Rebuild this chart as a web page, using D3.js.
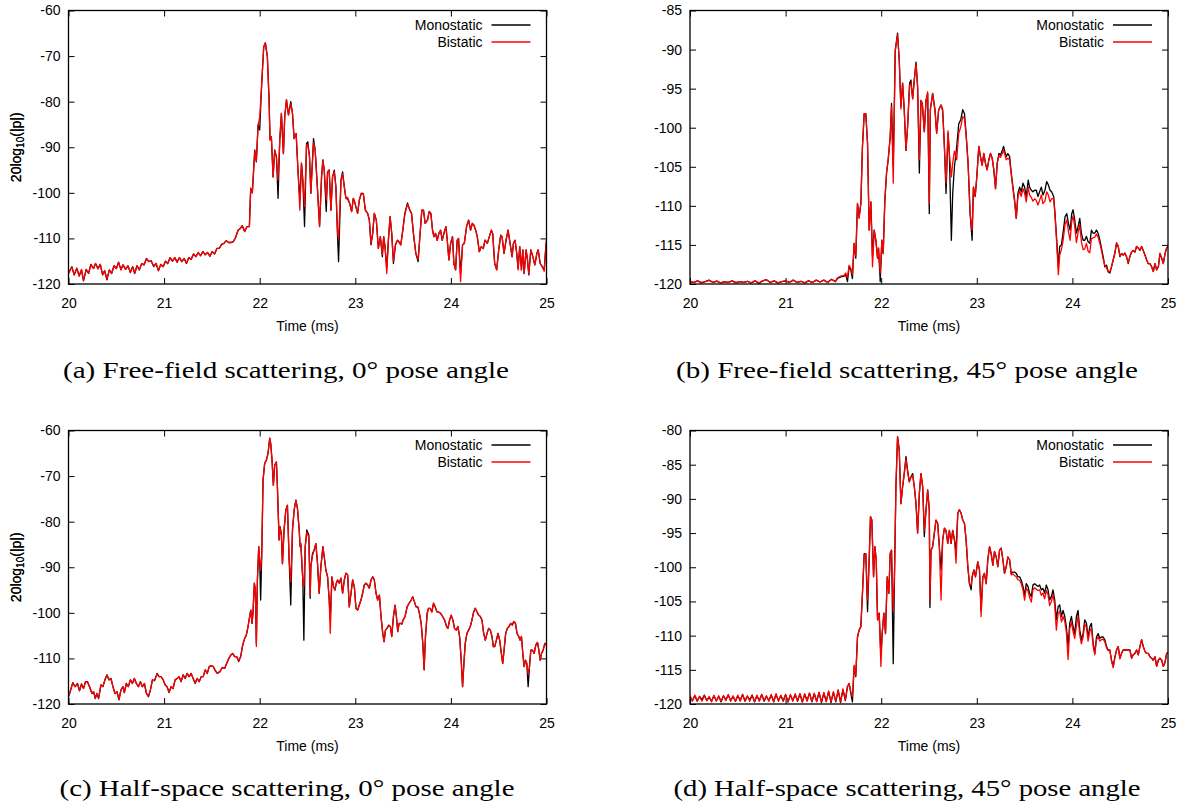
<!DOCTYPE html>
<html><head><meta charset="utf-8">
<script src="https://cdn.jsdelivr.net/npm/d3@7"></script>
<style>body{margin:0;background:#fff}svg{display:block}</style>
</head><body><svg id="chart" width="1181" height="805"></svg>
<script>
// ---------------- DATA ----------------
const timeTicks = [20, 21, 22, 23, 24, 25];
const yTicksA = [-120, -110, -100, -90, -80, -70, -60];
const yTicksB = [-120, -115, -110, -105, -100, -95, -90, -85];
const yTicksC = [-120, -110, -100, -90, -80, -70, -60];
const yTicksD = [-120, -115, -110, -105, -100, -95, -90, -85, -80];
const seriesNames = ["Monostatic", "Bistatic"];
const captions = [
  "(a) Free-field scattering, 0\u00b0 pose angle",
  "(b) Free-field scattering, 45\u00b0 pose angle",
  "(c) Half-space scattering, 0\u00b0 pose angle",
  "(d) Half-space scattering, 45\u00b0 pose angle"
];
const xLabel = "Time (ms)";

// rows: [time (ms), monostatic dB, bistatic dB]
const rowsA = [
[20.000,-117.7,-117.5],[20.035,-116.2,-116.3],[20.059,-118.0,-118.0],[20.087,-116.6,-116.5],[20.112,-118.2,-118.3],
[20.136,-116.9,-116.8],[20.157,-119.3,-119.2],[20.185,-116.8,-116.8],[20.210,-117.7,-117.6],[20.234,-115.7,-115.8],
[20.262,-116.6,-116.6],[20.283,-115.5,-115.5],[20.308,-116.6,-116.7],[20.332,-115.7,-115.7],[20.357,-118.0,-117.9],
[20.378,-117.1,-117.1],[20.402,-119.1,-118.9],[20.427,-116.9,-116.9],[20.451,-117.7,-117.7],[20.476,-116.0,-116.0],
[20.500,-116.6,-116.6],[20.524,-115.2,-115.3],[20.549,-116.9,-116.9],[20.570,-115.8,-115.8],[20.598,-116.8,-116.8],
[20.622,-116.0,-116.0],[20.647,-117.5,-117.4],[20.671,-116.2,-116.2],[20.692,-117.7,-117.6],[20.717,-116.0,-116.0],
[20.741,-116.9,-116.9],[20.766,-115.5,-115.5],[20.790,-115.8,-115.8],[20.815,-114.4,-114.5],[20.839,-115.1,-115.1],
[20.864,-114.9,-114.9],[20.892,-116.2,-116.1],[20.916,-115.5,-115.5],[20.941,-117.1,-117.0],[20.965,-115.7,-115.7],
[20.990,-116.2,-116.2],[21.014,-115.0,-115.0],[21.038,-115.5,-115.5],[21.063,-114.2,-114.2],[21.087,-115.0,-115.0],
[21.112,-114.2,-114.2],[21.136,-115.2,-115.2],[21.161,-114.2,-114.2],[21.185,-115.1,-115.1],[21.210,-114.4,-114.4],
[21.234,-115.5,-115.4],[21.259,-114.2,-114.2],[21.283,-114.6,-114.6],[21.308,-113.4,-113.4],[21.332,-114.0,-114.0],
[21.357,-113.1,-113.1],[21.381,-113.8,-113.8],[21.406,-112.9,-112.9],[21.430,-113.6,-113.6],[21.455,-113.1,-113.1],
[21.479,-113.9,-113.9],[21.503,-112.9,-112.9],[21.528,-113.4,-113.4],[21.552,-112.2,-112.2],[21.577,-112.2,-112.2],
[21.601,-111.3,-111.3],[21.626,-111.1,-111.1],[21.650,-110.5,-110.5],[21.675,-110.9,-110.9],[21.699,-110.9,-110.9],
[21.724,-110.7,-110.7],[21.748,-109.8,-109.8],[21.773,-108.2,-108.2],[21.797,-107.8,-107.8],[21.818,-107.2,-107.2],
[21.843,-108.5,-108.5],[21.867,-107.4,-107.4],[21.892,-107.4,-107.4],[21.906,-99.0,-99.0],[21.923,-100.0,-100.0],
[21.948,-90.6,-90.8],[21.965,-93.2,-93.0],[21.983,-85.1,-85.1],[22.000,-86.2,-83.5],[22.021,-76.0,-76.0],
[22.042,-68.0,-68.0],[22.059,-67.1,-67.1],[22.080,-70.1,-70.1],[22.098,-79.6,-79.6],[22.108,-88.4,-88.4],
[22.122,-87.7,-87.7],[22.140,-96.5,-96.5],[22.157,-90.6,-90.8],[22.175,-92.1,-92.1],[22.192,-101.2,-97.2],
[22.210,-88.4,-88.4],[22.227,-82.6,-82.6],[22.248,-91.4,-91.4],[22.262,-83.3,-83.3],[22.280,-79.6,-79.6],
[22.301,-82.9,-82.9],[22.325,-80.0,-80.5],[22.343,-82.6,-82.6],[22.360,-88.1,-88.1],[22.381,-87.0,-87.0],
[22.402,-95.7,-95.7],[22.420,-101.5,-103.8],[22.437,-93.5,-93.5],[22.451,-97.2,-97.2],[22.469,-107.4,-103.0],
[22.490,-89.2,-89.5],[22.503,-88.8,-89.5],[22.521,-92.1,-92.1],[22.535,-100.1,-100.1],[22.563,-88.1,-89.0],
[22.580,-90.6,-90.6],[22.605,-99.4,-99.4],[22.626,-107.4,-107.4],[22.647,-96.5,-96.5],[22.661,-92.8,-92.8],
[22.675,-95.0,-95.0],[22.696,-104.1,-101.6],[22.710,-95.4,-95.4],[22.727,-95.0,-95.0],[22.745,-103.8,-103.8],
[22.762,-96.5,-96.5],[22.780,-95.0,-95.4],[22.797,-98.7,-98.7],[22.815,-110.0,-109.0],[22.825,-115.1,-110.0],
[22.850,-97.2,-97.6],[22.867,-95.4,-95.8],[22.885,-98.7,-98.7],[22.902,-101.2,-101.2],[22.920,-101.4,-101.0],
[22.941,-102.3,-102.3],[22.962,-104.1,-104.1],[22.979,-101.2,-101.2],[22.997,-102.3,-102.3],[23.024,-104.5,-104.5],
[23.042,-101.6,-101.6],[23.063,-100.1,-100.1],[23.084,-100.1,-100.3],[23.105,-103.8,-103.8],[23.129,-104.5,-104.5],
[23.147,-106.0,-106.0],[23.164,-111.4,-111.0],[23.182,-108.9,-108.9],[23.199,-104.5,-104.5],[23.220,-106.0,-106.0],
[23.241,-112.2,-112.2],[23.262,-109.6,-109.6],[23.283,-114.0,-113.5],[23.297,-109.6,-109.6],[23.311,-111.8,-111.8],
[23.329,-116.6,-117.7],[23.346,-110.4,-110.4],[23.364,-105.2,-105.2],[23.381,-108.9,-108.9],[23.399,-115.5,-115.0],
[23.420,-111.4,-111.4],[23.441,-110.4,-110.4],[23.455,-110.7,-110.7],[23.476,-111.4,-111.4],[23.497,-108.2,-108.2],
[23.518,-104.5,-104.8],[23.546,-102.2,-102.5],[23.570,-103.8,-103.8],[23.588,-104.5,-104.5],[23.608,-108.9,-108.9],
[23.633,-113.3,-113.3],[23.657,-115.1,-114.6],[23.678,-108.9,-108.9],[23.696,-103.8,-103.8],[23.713,-103.8,-103.8],
[23.731,-106.7,-106.7],[23.755,-106.0,-106.0],[23.773,-104.1,-104.1],[23.790,-104.5,-104.5],[23.808,-108.2,-108.2],
[23.822,-109.6,-109.6],[23.839,-108.9,-108.9],[23.857,-110.4,-110.4],[23.874,-108.9,-108.9],[23.892,-108.2,-108.2],
[23.909,-110.4,-110.4],[23.927,-108.9,-108.9],[23.948,-107.4,-107.4],[23.962,-110.4,-110.4],[23.979,-114.7,-114.7],
[23.997,-111.1,-111.1],[24.017,-109.6,-109.6],[24.031,-115.5,-115.5],[24.049,-116.9,-116.9],[24.066,-110.4,-110.4],
[24.080,-110.0,-110.0],[24.101,-117.7,-119.5],[24.122,-111.4,-111.4],[24.140,-111.1,-111.1],[24.164,-107.4,-107.4],
[24.185,-106.0,-106.0],[24.206,-108.2,-108.2],[24.224,-106.7,-106.7],[24.241,-107.1,-107.1],[24.259,-108.2,-108.2],
[24.276,-109.6,-109.6],[24.297,-112.9,-112.9],[24.318,-111.8,-111.8],[24.339,-112.2,-112.2],[24.357,-110.4,-110.4],
[24.381,-111.1,-111.1],[24.402,-109.6,-109.6],[24.423,-108.2,-108.2],[24.437,-108.9,-108.9],[24.458,-115.5,-115.5],
[24.479,-116.9,-116.9],[24.500,-112.5,-112.5],[24.521,-109.3,-109.3],[24.535,-109.6,-109.6],[24.556,-113.3,-113.3],
[24.577,-110.4,-110.4],[24.598,-108.2,-108.2],[24.619,-111.1,-111.1],[24.640,-114.0,-114.0],[24.654,-111.1,-111.1],
[24.671,-110.4,-110.4],[24.689,-113.3,-113.3],[24.703,-116.6,-116.9],[24.720,-111.8,-111.8],[24.738,-116.9,-116.9],
[24.752,-112.5,-112.5],[24.766,-117.7,-117.7],[24.787,-112.5,-112.5],[24.801,-114.7,-114.7],[24.815,-118.0,-117.7],
[24.836,-112.5,-112.5],[24.857,-114.0,-114.0],[24.878,-115.8,-115.8],[24.899,-113.3,-113.3],[24.913,-112.5,-112.5],
[24.934,-115.5,-115.5],[24.955,-116.2,-116.2],[24.976,-116.9,-117.2],[24.993,-111.8,-111.8],[25.010,-108.9,-108.9]
];

const rowsB = [
[20.00,-119.7,-119.75],[20.04,-119.8,-119.8],[20.08,-119.6,-119.6],[20.12,-119.85,-119.8],[20.16,-119.7,-119.7],
[20.20,-119.5,-119.55],[20.24,-119.8,-119.8],[20.28,-119.65,-119.6],[20.32,-119.85,-119.85],[20.36,-119.7,-119.7],
[20.40,-119.8,-119.8],[20.44,-119.6,-119.6],[20.48,-119.85,-119.8],[20.52,-119.7,-119.7],[20.56,-119.8,-119.8],
[20.60,-119.65,-119.65],[20.64,-119.85,-119.85],[20.68,-119.6,-119.6],[20.72,-119.9,-119.85],[20.76,-119.6,-119.6],
[20.80,-119.45,-119.45],[20.84,-119.8,-119.8],[20.88,-119.6,-119.6],[20.92,-119.85,-119.85],[20.96,-119.7,-119.7],
[21.00,-119.6,-119.6],[21.04,-119.8,-119.8],[21.08,-119.5,-119.5],[21.12,-119.8,-119.8],[21.16,-119.65,-119.65],
[21.20,-119.85,-119.85],[21.24,-119.6,-119.6],[21.28,-119.8,-119.8],[21.32,-119.5,-119.5],[21.36,-119.75,-119.75],
[21.40,-119.5,-119.5],[21.44,-119.8,-119.8],[21.48,-119.4,-119.4],[21.52,-119.7,-119.7],
[21.542,-119.3,-119.2],[21.577,-119.1,-119.0],[21.612,-119.0,-118.9],[21.629,-118.8,-118.6],[21.647,-119.7,-119.2],
[21.664,-117.8,-117.6],[21.682,-118.2,-118.0],[21.699,-119.3,-118.8],[21.717,-114.8,-114.8],[21.734,-116.7,-116.4],
[21.752,-109.7,-109.7],[21.769,-111.4,-111.6],[21.787,-109.7,-109.7],[21.804,-102.4,-102.4],[21.822,-98.2,-98.2],
[21.839,-98.2,-98.2],[21.857,-102.0,-102.0],[21.874,-113.1,-113.1],[21.892,-109.5,-109.5],[21.909,-116.5,-117.8],
[21.927,-113.1,-113.1],[21.944,-114.4,-114.4],[21.962,-116.7,-116.7],[21.972,-115.4,-115.4],[21.990,-119.7,-118.6],
[22.007,-114.4,-114.4],[22.021,-116.1,-116.1],[22.038,-109.3,-109.3],[22.056,-105.8,-105.8],[22.073,-104.1,-104.1],
[22.094,-101.2,-101.2],[22.108,-96.9,-97.3],[22.126,-105.0,-107.1],[22.147,-90.1,-90.1],[22.171,-87.9,-88.1],
[22.189,-91.4,-91.4],[22.206,-97.3,-97.6],[22.224,-94.3,-94.3],[22.241,-97.7,-97.7],[22.259,-102.9,-102.9],
[22.276,-99.9,-99.9],[22.297,-94.3,-94.6],[22.311,-93.9,-94.3],[22.329,-96.3,-96.3],[22.346,-93.9,-93.9],
[22.364,-91.6,-91.8],[22.381,-94.8,-94.8],[22.399,-105.8,-104.1],[22.416,-96.5,-96.5],[22.430,-96.9,-96.9],
[22.451,-100.5,-100.5],[22.469,-96.5,-96.5],[22.486,-95.6,-95.4],[22.503,-111.0,-109.7],[22.514,-97.7,-97.7],
[22.538,-95.6,-95.6],[22.563,-97.7,-97.9],[22.580,-100.7,-100.7],[22.601,-97.7,-97.7],[22.626,-97.1,-97.1],
[22.643,-97.7,-97.9],[22.661,-102.4,-102.4],[22.678,-108.4,-107.1],[22.699,-100.7,-100.4],[22.713,-103.3,-103.3],
[22.734,-114.4,-106.3],[22.748,-108.4,-104.5],[22.766,-105.0,-103.0],[22.790,-102.4,-104.1],[22.811,-99.5,-100.7],
[22.832,-99.0,-99.9],[22.853,-97.7,-98.6],[22.871,-98.2,-98.8],[22.888,-100.7,-101.0],[22.909,-104.6,-104.6],
[22.930,-111.0,-111.0],[22.951,-114.4,-113.1],[22.965,-107.6,-107.6],[22.983,-108.8,-108.8],[23.000,-106.3,-106.3],
[23.021,-102.4,-102.4],[23.038,-103.7,-103.7],[23.056,-104.8,-104.8],[23.073,-103.3,-103.3],[23.091,-104.6,-104.6],
[23.108,-105.4,-105.4],[23.126,-104.1,-104.1],[23.143,-103.3,-103.3],[23.161,-103.9,-103.9],[23.178,-105.4,-105.4],
[23.196,-107.8,-107.8],[23.213,-104.6,-104.6],[23.231,-103.3,-103.6],[23.248,-103.5,-103.8],[23.266,-102.9,-103.3],
[23.280,-102.4,-102.9],[23.294,-103.1,-103.5],[23.308,-103.7,-104.1],[23.325,-103.3,-103.9],[23.343,-103.7,-104.1],
[23.361,-105.8,-106.1],[23.378,-107.6,-107.8],[23.396,-109.3,-109.6],[23.413,-111.6,-111.6],[23.430,-108.4,-108.8],
[23.448,-107.6,-108.1],[23.465,-108.2,-108.8],[23.483,-107.1,-107.8],[23.500,-107.6,-108.4],[23.517,-108.8,-109.5],
[23.538,-106.7,-107.6],[23.552,-107.6,-108.6],[23.570,-108.0,-108.9],[23.587,-108.2,-109.4],[23.605,-108.0,-109.1],
[23.622,-108.0,-109.3],[23.640,-108.8,-109.9],[23.657,-108.2,-109.3],[23.675,-107.6,-108.6],[23.692,-108.6,-109.7],
[23.713,-108.0,-109.4],[23.731,-106.9,-108.2],[23.748,-107.3,-108.6],[23.766,-108.0,-109.5],[23.783,-108.2,-109.1],
[23.804,-108.8,-109.0],[23.818,-111.0,-111.2],[23.836,-114.4,-114.8],[23.853,-117.8,-118.8],[23.867,-115.2,-116.3],
[23.885,-115.0,-115.6],[23.902,-113.5,-114.5],[23.923,-111.4,-112.4],[23.941,-111.0,-111.8],[23.958,-112.2,-113.2],
[23.976,-113.1,-114.4],[23.993,-111.0,-112.0],[24.007,-110.5,-111.3],[24.024,-111.8,-112.6],[24.042,-113.5,-114.7],
[24.059,-112.7,-113.5],[24.077,-111.6,-112.4],[24.094,-113.5,-114.6],[24.112,-114.4,-115.6],[24.129,-114.4,-115.5],
[24.147,-113.9,-114.8],[24.164,-114.6,-115.8],[24.182,-114.8,-116.0],[24.199,-113.1,-114.2],[24.217,-113.5,-114.1],
[24.234,-113.5,-114.0],[24.252,-113.1,-113.6],[24.269,-113.5,-114.0],[24.287,-114.4,-114.8],[24.304,-115.4,-115.7],
[24.322,-116.5,-116.8],[24.339,-117.8,-117.6],[24.357,-117.6,-117.9],[24.374,-118.4,-118.5],[24.392,-118.6,-118.4],
[24.409,-117.8,-117.8],[24.427,-116.9,-116.9],[24.444,-116.1,-116.0],[24.462,-114.8,-114.7],[24.479,-115.2,-115.1],
[24.497,-116.5,-116.4],[24.514,-116.1,-116.1],[24.531,-116.3,-116.3],[24.549,-116.1,-116.0],[24.566,-116.5,-116.5],
[24.584,-117.4,-117.3],[24.601,-116.5,-116.5],[24.619,-115.9,-115.9],[24.636,-115.7,-115.7],[24.654,-115.9,-115.9],
[24.671,-115.2,-115.2],[24.689,-115.4,-115.4],[24.706,-115.7,-115.7],[24.724,-115.2,-115.2],[24.741,-115.7,-115.7],
[24.759,-116.3,-116.3],[24.776,-116.9,-116.9],[24.794,-117.4,-117.4],[24.811,-117.4,-117.4],[24.829,-117.8,-117.8],
[24.846,-118.4,-118.4],[24.864,-117.4,-117.4],[24.881,-118.2,-118.2],[24.899,-117.8,-117.8],[24.916,-116.1,-116.1],
[24.934,-116.7,-116.7],[24.951,-117.4,-117.4],[24.969,-116.1,-116.1],[24.986,-115.4,-115.4],[25.000,-115.2,-115.2]
];

const rowsC = [
[20.000,-118.4,-118.2],[20.017,-117.3,-117.3],[20.045,-115.3,-115.4],[20.070,-116.2,-116.2],[20.094,-115.5,-115.6],
[20.115,-117.1,-117.0],[20.136,-115.6,-115.6],[20.157,-116.6,-116.6],[20.178,-115.1,-115.1],[20.199,-115.1,-115.2],
[20.220,-116.2,-116.2],[20.245,-117.7,-117.6],[20.262,-117.3,-117.3],[20.280,-118.8,-118.7],[20.297,-117.7,-117.7],
[20.315,-118.8,-118.7],[20.339,-115.8,-115.8],[20.360,-116.2,-116.2],[20.381,-114.7,-114.7],[20.402,-113.6,-113.7],
[20.423,-114.7,-114.7],[20.444,-114.4,-114.4],[20.465,-116.2,-116.2],[20.486,-117.7,-117.7],[20.507,-117.3,-117.3],
[20.528,-119.1,-119.0],[20.549,-116.9,-116.9],[20.570,-116.2,-116.2],[20.584,-117.5,-117.5],[20.605,-115.5,-115.5],
[20.626,-116.2,-116.2],[20.647,-114.7,-114.7],[20.668,-115.5,-115.5],[20.689,-114.4,-114.4],[20.710,-115.5,-115.5],
[20.731,-116.2,-116.2],[20.752,-115.1,-115.1],[20.773,-116.2,-116.2],[20.794,-115.5,-115.5],[20.815,-117.7,-117.6],
[20.836,-118.4,-118.3],[20.857,-116.9,-116.9],[20.878,-114.7,-114.7],[20.899,-114.9,-114.9],[20.927,-113.3,-113.4],
[20.948,-114.0,-114.0],[20.969,-114.0,-114.0],[20.990,-114.7,-114.7],[21.010,-115.8,-115.8],[21.031,-116.2,-116.2],
[21.052,-117.5,-117.4],[21.073,-116.2,-116.2],[21.094,-116.6,-116.6],[21.115,-114.7,-114.7],[21.136,-114.4,-114.4],
[21.157,-114.0,-114.0],[21.178,-115.1,-115.1],[21.199,-113.6,-113.6],[21.220,-114.4,-114.4],[21.241,-113.3,-113.3],
[21.262,-114.0,-114.0],[21.283,-113.3,-113.3],[21.304,-114.4,-114.4],[21.325,-115.5,-115.4],[21.346,-114.4,-114.4],
[21.367,-115.1,-115.1],[21.388,-114.0,-114.0],[21.409,-114.0,-114.0],[21.430,-112.5,-112.5],[21.451,-113.3,-113.3],
[21.472,-111.8,-111.8],[21.493,-111.6,-111.6],[21.514,-111.8,-111.8],[21.535,-112.7,-112.6],[21.556,-113.3,-113.2],
[21.584,-112.9,-112.9],[21.608,-112.0,-112.0],[21.633,-112.2,-112.2],[21.654,-111.1,-111.1],[21.675,-110.1,-110.1],
[21.696,-109.3,-109.3],[21.717,-108.9,-108.9],[21.738,-109.6,-109.6],[21.759,-109.6,-109.6],[21.780,-110.7,-110.5],
[21.801,-109.6,-109.6],[21.822,-107.1,-107.1],[21.843,-105.6,-105.6],[21.860,-104.9,-104.9],[21.878,-103.0,-103.0],
[21.895,-100.8,-100.8],[21.906,-99.4,-99.4],[21.920,-102.3,-102.3],[21.930,-99.8,-99.8],[21.944,-93.5,-93.5],
[21.955,-95.0,-95.0],[21.965,-106.7,-107.4],[21.976,-92.8,-92.8],[21.990,-85.5,-85.5],[22.000,-88.4,-88.4],
[22.010,-97.2,-90.6],[22.021,-87.7,-87.7],[22.035,-70.9,-70.9],[22.052,-67.2,-67.2],[22.070,-66.5,-66.5],
[22.087,-65.0,-65.0],[22.105,-61.7,-61.7],[22.115,-62.8,-62.8],[22.129,-66.5,-66.5],[22.143,-72.0,-72.0],
[22.157,-67.6,-67.6],[22.175,-66.9,-66.9],[22.185,-72.3,-72.3],[22.203,-84.0,-84.0],[22.213,-81.1,-81.1],
[22.227,-82.9,-82.9],[22.238,-89.2,-89.2],[22.255,-81.8,-81.8],[22.273,-77.5,-77.5],[22.290,-76.4,-76.4],
[22.308,-88.4,-88.4],[22.325,-98.3,-93.2],[22.343,-81.8,-81.8],[22.360,-77.5,-77.5],[22.378,-75.3,-75.3],
[22.395,-77.1,-77.1],[22.413,-81.8,-81.8],[22.423,-85.5,-85.5],[22.430,-84.8,-84.8],[22.451,-92.8,-92.8],
[22.462,-106.0,-94.3],[22.476,-85.5,-85.5],[22.493,-81.8,-82.3],[22.514,-82.9,-83.4],[22.528,-96.8,-96.1],
[22.535,-89.9,-89.9],[22.552,-87.0,-87.5],[22.570,-86.2,-86.2],[22.587,-84.8,-84.8],[22.605,-89.2,-89.2],
[22.622,-95.7,-95.7],[22.640,-89.9,-89.9],[22.661,-85.5,-85.5],[22.675,-87.7,-87.7],[22.692,-90.6,-90.6],
[22.710,-92.1,-92.1],[22.727,-97.2,-97.2],[22.738,-101.6,-104.5],[22.755,-92.1,-92.1],[22.773,-94.3,-94.3],
[22.787,-95.0,-95.0],[22.801,-93.5,-93.5],[22.815,-92.8,-92.8],[22.832,-93.5,-93.5],[22.850,-92.4,-92.4],
[22.867,-95.7,-95.7],[22.885,-92.8,-92.8],[22.902,-91.3,-91.3],[22.920,-91.7,-91.7],[22.937,-98.7,-98.7],
[22.955,-95.7,-95.7],[22.972,-92.8,-92.8],[22.990,-94.3,-94.3],[23.007,-99.0,-99.0],[23.024,-99.4,-99.4],
[23.042,-98.3,-98.3],[23.059,-97.2,-97.2],[23.077,-95.7,-95.7],[23.094,-93.9,-93.9],[23.112,-93.5,-93.5],
[23.129,-93.9,-93.9],[23.147,-94.6,-94.6],[23.164,-92.8,-92.8],[23.182,-92.1,-92.1],[23.199,-92.8,-92.8],
[23.217,-95.7,-95.7],[23.234,-97.2,-97.2],[23.252,-96.1,-96.1],[23.269,-100.8,-100.8],[23.287,-104.5,-104.5],
[23.301,-106.3,-106.3],[23.315,-103.8,-103.8],[23.332,-103.4,-103.4],[23.350,-102.7,-102.7],[23.367,-103.0,-103.0],
[23.381,-105.2,-105.2],[23.399,-100.8,-100.8],[23.416,-98.3,-98.3],[23.430,-100.8,-100.8],[23.444,-104.1,-104.1],
[23.458,-102.3,-102.3],[23.472,-102.3,-102.3],[23.486,-102.5,-102.5],[23.500,-101.6,-101.6],[23.521,-100.8,-100.8],
[23.542,-98.7,-98.7],[23.563,-97.9,-97.9],[23.584,-97.2,-97.2],[23.601,-96.5,-96.5],[23.619,-97.6,-97.6],
[23.636,-98.7,-98.7],[23.654,-98.7,-98.7],[23.671,-100.1,-100.1],[23.689,-102.3,-102.3],[23.706,-106.7,-106.7],
[23.720,-112.5,-112.5],[23.734,-105.2,-105.2],[23.752,-100.1,-100.1],[23.766,-99.0,-99.0],[23.783,-99.0,-99.0],
[23.801,-99.8,-99.8],[23.818,-97.9,-97.9],[23.836,-98.7,-98.7],[23.853,-99.8,-99.8],[23.871,-99.8,-99.8],
[23.892,-100.1,-100.1],[23.913,-100.8,-100.8],[23.934,-101.6,-101.6],[23.955,-103.0,-103.0],[23.969,-103.4,-103.4],
[23.986,-101.6,-101.6],[24.003,-100.5,-100.5],[24.021,-101.6,-101.6],[24.038,-103.4,-103.4],[24.056,-103.8,-103.8],
[24.073,-103.0,-103.0],[24.091,-105.2,-105.2],[24.108,-110.4,-110.4],[24.122,-116.2,-116.2],[24.136,-111.1,-111.1],
[24.150,-106.7,-106.7],[24.168,-104.5,-104.5],[24.185,-103.8,-103.8],[24.203,-103.0,-103.0],[24.220,-101.6,-101.6],
[24.238,-99.8,-99.8],[24.255,-99.0,-99.0],[24.273,-99.8,-99.8],[24.290,-100.5,-100.5],[24.308,-100.8,-100.8],
[24.325,-101.6,-101.6],[24.343,-104.5,-104.5],[24.360,-106.0,-106.0],[24.378,-104.5,-104.5],[24.395,-103.4,-103.4],
[24.413,-103.8,-103.8],[24.430,-105.2,-105.2],[24.444,-107.4,-107.4],[24.458,-107.4,-107.4],[24.476,-106.0,-106.0],
[24.493,-104.5,-104.5],[24.510,-106.0,-106.0],[24.528,-108.9,-108.9],[24.542,-111.1,-111.1],[24.556,-108.2,-108.2],
[24.573,-104.5,-104.5],[24.591,-103.4,-103.4],[24.608,-103.0,-103.0],[24.626,-102.3,-102.3],[24.643,-102.7,-102.7],
[24.657,-101.9,-101.9],[24.675,-102.3,-102.3],[24.692,-104.5,-104.5],[24.710,-105.2,-105.2],[24.724,-106.0,-106.0],
[24.738,-105.2,-105.2],[24.752,-108.9,-108.9],[24.766,-111.8,-111.8],[24.780,-110.4,-110.4],[24.794,-111.1,-111.1],
[24.808,-116.2,-113.5],[24.822,-111.8,-111.8],[24.836,-108.2,-108.2],[24.853,-108.2,-108.2],[24.871,-108.9,-108.9],
[24.888,-107.1,-107.1],[24.906,-106.5,-106.5],[24.920,-108.2,-108.2],[24.934,-110.4,-110.4],[24.948,-108.9,-108.9],
[24.965,-108.2,-108.2],[24.983,-106.7,-106.7],[25.000,-107.1,-107.1]
];

const rowsD = [
[20.000,-118.9,-118.8],[20.025,-119.5,-119.6],[20.050,-118.8,-118.7],[20.075,-119.6,-119.5],[20.100,-118.9,-118.9],
[20.125,-119.4,-119.6],[20.150,-118.7,-118.8],[20.175,-119.5,-119.5],[20.200,-119.0,-118.9],[20.225,-119.6,-119.7],
[20.250,-118.8,-118.7],[20.275,-119.5,-119.6],[20.300,-118.9,-118.8],[20.325,-119.7,-119.6],[20.350,-118.8,-118.8],
[20.375,-119.4,-119.5],[20.400,-118.7,-118.6],[20.425,-119.5,-119.6],[20.450,-118.9,-118.8],[20.475,-119.6,-119.6],
[20.500,-118.8,-118.7],[20.525,-119.5,-119.6],[20.550,-118.6,-118.6],[20.575,-119.6,-119.5],[20.600,-118.9,-118.8],
[20.625,-119.4,-119.6],[20.650,-118.7,-118.7],[20.675,-119.7,-119.6],[20.700,-118.8,-118.7],[20.725,-119.5,-119.6],
[20.750,-118.6,-118.6],[20.775,-119.6,-119.5],[20.800,-118.9,-118.8],[20.825,-119.5,-119.6],[20.850,-118.7,-118.6],
[20.875,-119.7,-119.6],[20.900,-118.6,-118.5],[20.925,-119.5,-119.6],[20.950,-118.8,-118.7],[20.975,-119.6,-119.5],
[21.000,-118.6,-118.6],[21.025,-119.7,-119.7],[21.050,-118.7,-118.6],[21.075,-119.5,-119.6],[21.100,-118.6,-118.5],
[21.125,-119.6,-119.5],[21.150,-118.5,-118.5],[21.175,-119.7,-119.7],[21.200,-118.6,-118.5],[21.225,-119.5,-119.6],
[21.250,-118.4,-118.4],[21.275,-119.7,-119.6],[21.300,-118.5,-118.4],[21.325,-119.6,-119.7],[21.350,-118.3,-118.3],
[21.375,-119.8,-119.7],[21.400,-118.4,-118.3],[21.425,-119.6,-119.7],[21.450,-118.2,-118.1],[21.475,-119.8,-119.7],
[21.500,-118.3,-118.2],[21.525,-119.7,-119.6],[21.550,-118.0,-117.9],[21.575,-119.8,-119.7],[21.600,-117.9,-117.8],
[21.625,-119.5,-119.4],
[21.647,-117.5,-117.4],[21.664,-117.0,-117.0],[21.682,-118.4,-118.2],[21.699,-119.7,-118.9],[21.717,-114.5,-114.3],
[21.734,-116.0,-115.8],[21.752,-110.2,-110.2],[21.769,-109.2,-109.2],[21.787,-108.7,-108.7],[21.804,-103.8,-103.8],
[21.822,-98.0,-98.2],[21.839,-98.0,-98.0],[21.857,-106.5,-104.8],[21.874,-98.9,-98.9],[21.888,-92.6,-92.6],
[21.902,-93.1,-93.1],[21.920,-101.4,-101.4],[21.934,-97.0,-97.0],[21.948,-98.9,-98.9],[21.962,-107.7,-107.7],
[21.979,-106.7,-106.7],[21.997,-113.1,-114.5],[22.010,-109.7,-109.7],[22.028,-106.7,-106.7],[22.045,-109.7,-109.7],
[22.063,-101.4,-101.4],[22.080,-103.8,-103.8],[22.094,-98.0,-98.0],[22.108,-97.5,-97.5],[22.126,-114.1,-106.5],
[22.140,-100.4,-100.4],[22.154,-88.2,-88.2],[22.171,-80.9,-80.9],[22.189,-82.9,-82.9],[22.206,-90.7,-90.7],
[22.224,-88.2,-88.2],[22.241,-86.3,-86.3],[22.259,-83.8,-84.2],[22.276,-85.8,-86.0],[22.294,-87.5,-87.5],
[22.311,-86.8,-86.8],[22.329,-86.3,-86.6],[22.346,-88.2,-88.2],[22.364,-90.7,-90.7],[22.381,-95.0,-95.0],
[22.399,-89.2,-89.2],[22.416,-86.3,-86.3],[22.434,-88.2,-88.2],[22.451,-95.5,-94.6],[22.469,-91.6,-91.6],
[22.486,-88.7,-88.7],[22.503,-91.6,-91.6],[22.510,-105.9,-104.9],[22.521,-97.5,-97.5],[22.538,-97.0,-97.0],
[22.556,-95.0,-95.0],[22.573,-93.1,-93.1],[22.591,-93.6,-93.6],[22.608,-97.0,-97.0],[22.626,-100.4,-104.8],
[22.643,-96.0,-96.0],[22.661,-94.3,-94.3],[22.678,-94.6,-94.6],[22.696,-96.5,-96.5],[22.713,-94.6,-94.6],
[22.731,-96.5,-96.5],[22.748,-94.6,-94.6],[22.766,-96.0,-96.0],[22.783,-97.5,-99.4],[22.801,-92.1,-92.1],
[22.818,-91.6,-91.6],[22.836,-92.1,-92.1],[22.853,-93.1,-93.1],[22.871,-93.6,-93.6],[22.888,-96.0,-96.0],
[22.906,-99.9,-99.9],[22.923,-102.4,-102.4],[22.941,-103.3,-102.6],[22.951,-101.4,-101.4],[22.969,-100.4,-100.4],
[22.986,-101.4,-101.4],[23.010,-99.2,-99.2],[23.028,-100.4,-100.4],[23.045,-106.3,-107.2],[23.063,-101.4,-101.4],
[23.080,-100.9,-100.9],[23.098,-102.4,-102.4],[23.115,-98.9,-98.9],[23.133,-97.0,-97.0],[23.150,-98.0,-98.0],
[23.168,-99.7,-99.7],[23.185,-97.7,-97.7],[23.203,-98.5,-98.5],[23.220,-99.9,-99.9],[23.238,-97.5,-97.5],
[23.255,-97.2,-97.2],[23.273,-98.9,-98.9],[23.290,-100.9,-100.9],[23.308,-99.9,-99.9],[23.325,-98.5,-98.5],
[23.343,-98.9,-98.9],[23.360,-100.9,-101.1],[23.378,-100.7,-101.0],[23.395,-100.7,-101.2],[23.413,-100.9,-101.4],
[23.430,-101.4,-101.8],[23.448,-101.4,-101.9],[23.465,-101.9,-102.4],[23.483,-102.8,-103.3],[23.500,-104.1,-104.8],
[23.517,-102.4,-103.0],[23.535,-102.8,-103.5],[23.552,-103.8,-104.4],[23.570,-104.3,-105.1],[23.587,-102.6,-103.3],
[23.605,-102.4,-103.0],[23.622,-102.6,-103.2],[23.640,-102.8,-103.4],[23.657,-102.6,-103.3],[23.675,-103.3,-104.1],
[23.692,-103.1,-103.8],[23.710,-103.8,-104.6],[23.727,-102.6,-103.4],[23.745,-103.3,-104.0],[23.762,-104.8,-105.6],
[23.780,-104.3,-105.0],[23.797,-103.3,-104.0],[23.815,-104.8,-105.5],[23.832,-107.7,-109.2],[23.850,-105.8,-106.8],
[23.867,-105.5,-106.4],[23.885,-107.2,-108.0],[23.902,-106.3,-107.2],[23.920,-107.2,-107.9],[23.937,-108.7,-109.5],
[23.955,-111.6,-113.5],[23.972,-108.2,-109.0],[23.990,-107.2,-108.0],[24.007,-108.7,-109.4],[24.024,-109.7,-110.4],
[24.042,-107.2,-108.6],[24.059,-106.3,-107.2],[24.077,-109.2,-109.9],[24.094,-110.6,-111.2],[24.112,-109.7,-110.2],
[24.129,-107.7,-108.3],[24.147,-108.2,-108.8],[24.164,-110.2,-110.8],[24.182,-108.7,-109.4],[24.199,-108.2,-108.9],
[24.217,-111.1,-111.5],[24.234,-112.6,-112.8],[24.252,-110.2,-110.6],[24.269,-109.7,-110.2],[24.287,-110.4,-110.8],
[24.304,-110.2,-110.6],[24.322,-110.2,-110.5],[24.339,-110.6,-110.9],[24.357,-111.6,-111.8],[24.374,-112.1,-112.2],
[24.392,-112.1,-112.2],[24.409,-113.6,-113.7],[24.427,-114.5,-114.7],[24.444,-113.1,-113.3],[24.462,-112.1,-112.1],
[24.479,-111.6,-111.6],[24.497,-113.3,-113.4],[24.514,-112.6,-112.6],[24.531,-112.1,-112.1],[24.549,-112.1,-112.1],
[24.566,-112.1,-112.1],[24.584,-112.1,-112.1],[24.601,-112.1,-112.1],[24.619,-113.3,-113.3],[24.636,-112.8,-112.8],
[24.654,-112.6,-112.6],[24.671,-112.1,-112.1],[24.689,-112.8,-112.8],[24.706,-111.6,-111.6],[24.724,-110.6,-110.6],
[24.741,-111.6,-111.6],[24.759,-112.3,-112.3],[24.776,-112.6,-112.6],[24.794,-112.6,-112.6],[24.811,-113.1,-113.1],
[24.829,-113.3,-113.3],[24.846,-113.6,-113.6],[24.864,-113.1,-113.1],[24.881,-114.5,-114.5],[24.899,-113.6,-113.6],
[24.916,-113.3,-113.3],[24.934,-113.6,-113.6],[24.951,-114.5,-114.5],[24.969,-113.9,-113.9],[24.986,-112.6,-112.6],
[25.000,-112.5,-112.5]
];

// ---------------- LAYOUT ----------------
const W = 478, H = 273.5;
const panels = [
  { rows: rowsA, yTicks: yTicksA, left: 68.5, top: 10.5, cap: captions[0], capX: 286, capY: 378, capW: 446 },
  { rows: rowsB, yTicks: yTicksB, left: 690, top: 10.5, cap: captions[1], capX: 907, capY: 378, capW: 462 },
  { rows: rowsC, yTicks: yTicksC, left: 68.5, top: 430.5, cap: captions[2], capX: 287, capY: 796, capW: 455 },
  { rows: rowsD, yTicks: yTicksD, left: 690, top: 430.5, cap: captions[3], capX: 907, capY: 796, capW: 467 }
];
const colors = ["#000000", "#ff0000"];
const sansFont = "'Liberation Sans', Arial, Helvetica, sans-serif";
const serifFont = "'Liberation Serif', 'Times New Roman', Times, serif";
const fmt = d => String(d);

const svg = d3.select("#chart");
svg.append("rect").attr("width", 1181).attr("height", 805).attr("fill", "#fff");

panels.forEach((p, i) => {
  const g = svg.append("g").attr("transform", `translate(${p.left},${p.top})`);
  const x = d3.scaleLinear().domain([20, 25]).range([0, W]);
  const y = d3.scaleLinear().domain([d3.min(p.yTicks), d3.max(p.yTicks)]).range([H, 0]);

  const clipId = "clip" + i;
  g.append("clipPath").attr("id", clipId).append("rect").attr("width", W).attr("height", H);

  const styleAxis = sel => {
    sel.select(".domain").remove();
    sel.selectAll(".tick line").attr("stroke", "#000").attr("stroke-width", 1);
    sel.selectAll("text").attr("font-family", sansFont).attr("font-size", 14).attr("fill", "#000");
  };
  g.append("g").attr("transform", `translate(0,${H})`)
    .call(d3.axisBottom(x).tickValues(timeTicks).tickFormat(fmt).tickSize(-6).tickPadding(14))
    .call(styleAxis);
  g.append("g")
    .call(d3.axisTop(x).tickValues(timeTicks).tickFormat("").tickSize(-6))
    .call(styleAxis);
  g.append("g")
    .call(d3.axisLeft(y).tickValues(p.yTicks).tickFormat(fmt).tickSize(-6).tickPadding(8))
    .call(styleAxis);
  g.append("g").attr("transform", `translate(${W},0)`)
    .call(d3.axisRight(y).tickValues(p.yTicks).tickFormat("").tickSize(-6))
    .call(styleAxis);

  // series lines (monostatic first, bistatic on top)
  const plot = g.append("g").attr("clip-path", `url(#${clipId})`);
  [1, 2].forEach((col, k) => {
    const line = d3.line().x(r => x(r[0])).y(r => y(r[col]));
    plot.append("path").datum(p.rows)
      .attr("d", line).attr("fill", "none")
      .attr("stroke", colors[k]).attr("stroke-width", 1.3)
      .attr("stroke-linejoin", "round");
  });

  // border
  g.append("rect").attr("width", W).attr("height", H)
    .attr("fill", "none").attr("stroke", "#000").attr("stroke-width", 1.3);

  // legend
  seriesNames.forEach((name, k) => {
    const ly = 14.5 + k * 17;
    g.append("text").attr("x", W - 64).attr("y", ly + 5)
      .attr("text-anchor", "end").attr("font-family", sansFont).attr("font-size", 14)
      .attr("fill", "#000").text(name);
    g.append("line").attr("x1", W - 55).attr("x2", W - 16).attr("y1", ly).attr("y2", ly)
      .attr("stroke", colors[k]).attr("stroke-width", 1.3);
  });

  // x label
  g.append("text").attr("x", W / 2).attr("y", H + 47)
    .attr("text-anchor", "middle").attr("font-family", sansFont).attr("font-size", 14)
    .attr("fill", "#000").text(xLabel);

  // y label with subscript
  const yl = g.append("text")
    .attr("transform", `translate(${-p.left + 21},${H / 2}) rotate(-90)`)
    .attr("text-anchor", "middle").attr("font-family", sansFont).attr("font-size", 14).attr("fill", "#000");
  yl.append("tspan").text("20log");
  yl.append("tspan").attr("font-size", 10).attr("dy", 3).text("10");
  yl.append("tspan").attr("dy", -3).text("(|p|)");

  // caption
  svg.append("text").attr("x", p.capX).attr("y", p.capY)
    .attr("text-anchor", "middle").attr("font-family", serifFont).attr("font-size", 23)
    .attr("textLength", p.capW).attr("lengthAdjust", "spacingAndGlyphs")
    .attr("fill", "#000").text(p.cap);
});
</script>
</body></html>
